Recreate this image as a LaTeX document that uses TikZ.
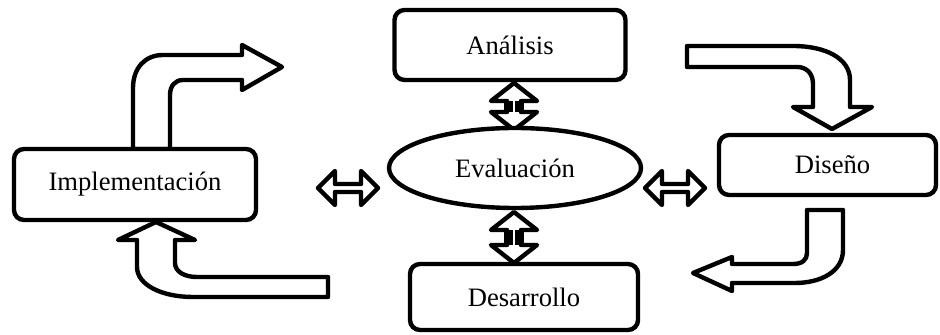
\documentclass[tikz,border=0pt]{standalone}
\usepackage{fontspec}
\setmainfont{Liberation Serif}
\usetikzlibrary{shapes.geometric}

\tikzset{
  phase/.style={draw, line width=2.2pt, rounded corners=5pt, fill=white,
    font=\fontsize{13.3}{16}\selectfont},
  evalnode/.style={draw, ellipse, line width=2.2pt, fill=white, inner sep=0pt,
    minimum width=126pt, minimum height=40pt, font=\fontsize{13.3}{16}\selectfont},
  blockarrow/.style={draw, line width=2.2pt, line join=round, fill=white},
  shaftwall/.style={line width=4.2pt},
}

\begin{document}
\begin{tikzpicture}[x=0.5pt, y=-0.5pt]
	\useasboundingbox (0,0) rectangle (940,335);
	% bent arrows of the cycle
	\draw[blockarrow] (133,149) -- (133,88) .. controls (133,68) and (145,55) .. (163,55)
		-- (242,55) -- (242,45) -- (282,67) -- (242,90) -- (242,80) -- (183,80)
		.. controls (175,80) and (170,86) .. (170,95) -- (170,149) -- cycle;
	\draw[blockarrow] (687,46) -- (793,46) .. controls (825,46) and (850,58) .. (850,80)
		-- (850,107) -- (872,107) -- (832,129) -- (793,107) -- (813,107) -- (813,84)
		.. controls (813,74) and (807,67) .. (797,67) -- (687,67) -- cycle;
	\draw[blockarrow] (807,210) -- (843,210) -- (843,250) .. controls (843,272) and (820,283) .. (795,283)
		-- (732,283) -- (732,291) -- (693,273) -- (732,257) -- (732,264) -- (793,264)
		.. controls (802,264) and (807,260) .. (807,253) -- cycle;
	\draw[blockarrow] (156,222) -- (195,240) -- (175,240) -- (175,263)
		.. controls (175,272) and (185,277) .. (197,277) -- (328,277) -- (328,297) -- (193,297)
		.. controls (162,297) and (137,285) .. (137,267) -- (137,240) -- (118,240) -- cycle;
	% double arrows to the evaluation
	\draw[blockarrow] (514,83) -- (537,101) -- (521,101) -- (521,112) -- (537,112) -- (514,130)
		-- (491,112) -- (507,112) -- (507,101) -- (491,101) -- cycle;
	\draw[shaftwall] (508.5,101) -- (508.5,112) (519.5,101) -- (519.5,112);
	\draw[blockarrow] (514,212) -- (537,230) -- (521,230) -- (521,245) -- (537,245) -- (514,263)
		-- (491,245) -- (507,245) -- (507,230) -- (491,230) -- cycle;
	\draw[shaftwall] (508.5,230) -- (508.5,245) (519.5,230) -- (519.5,245);
	\draw[blockarrow] (318,188) -- (335,171) -- (335,184) -- (361,184) -- (361,171) -- (378,188)
		-- (361,205) -- (361,192) -- (335,192) -- (335,205) -- cycle;
	\draw[blockarrow] (645,188) -- (662,171) -- (662,184) -- (688,184) -- (688,171) -- (705,188)
		-- (688,205) -- (688,192) -- (662,192) -- (662,205) -- cycle;
	% phases
	\node[phase, minimum width=115.5pt, minimum height=35pt] (ana) at (510,45) {Análisis};
	\node[phase, minimum width=108.5pt, minimum height=30pt] (dis) at (827.5,165) {\hspace{5pt}Diseño};
	\node[phase, minimum width=114pt, minimum height=33pt] (des) at (524,297) {Desarrollo};
	\node[phase, minimum width=121pt, minimum height=35.5pt] (imp) at (135,184.5) {Implementación};
	\node[evalnode] (eva) at (515,168) {Evaluación};
\end{tikzpicture}
\end{document}
